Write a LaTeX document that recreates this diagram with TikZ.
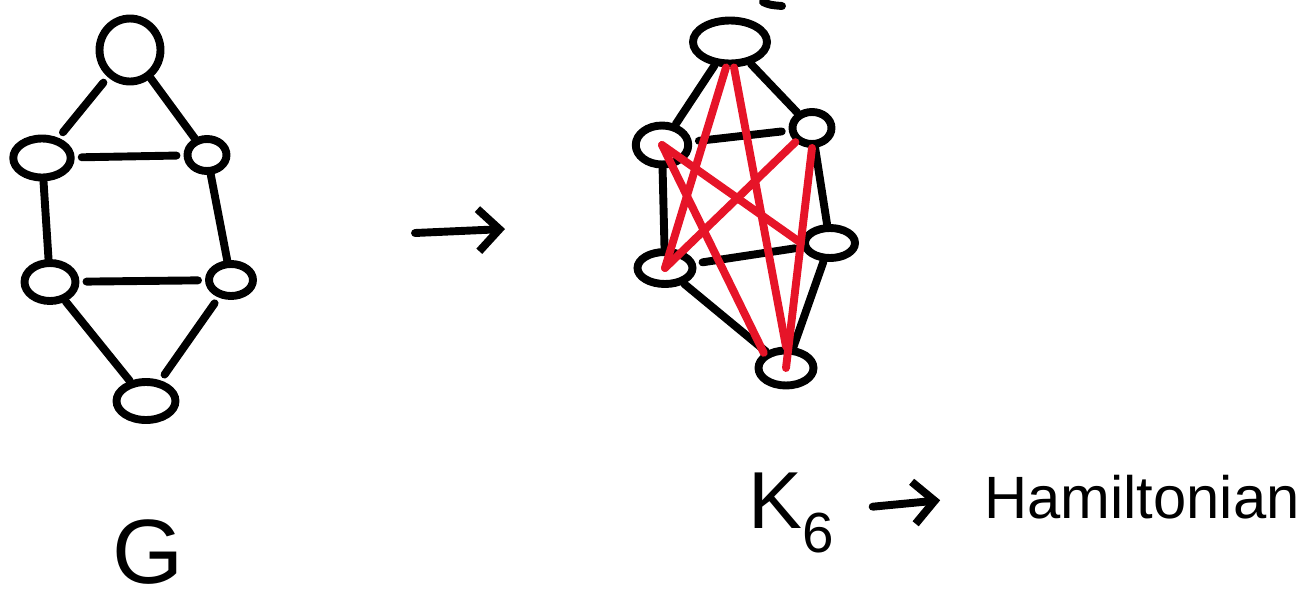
\documentclass[tikz,border=0pt]{standalone}
\usepackage{fontspec}
\setmainfont{Liberation Sans}
\usetikzlibrary{shapes.geometric,arrows.meta}
\tikzset{
  vtx/.style={ellipse, draw, line width=4.5pt, inner sep=0pt},
  edge/.style={line width=4.5pt, line cap=round},
  redge/.style={line width=4.5pt, line cap=round, draw={rgb,255:red,230;green,20;blue,40}},
  gap/.style={shorten <=4pt, shorten >=4pt},
  hand/.style={-{Straight Barb[length=12pt,width=24pt,line width=4.5pt]}, line width=4.5pt, line cap=round}
}
\begin{document}
\begin{tikzpicture}[x=0.02cm,y=-0.02cm]
\useasboundingbox (0,0) rectangle (1306,599);
% graph G
\node[vtx, minimum width=1.22cm, minimum height=1.26cm] (ga) at (130,50) {};
\node[vtx, minimum width=1.15cm, minimum height=0.78cm] (gb) at (42,158) {};
\node[vtx, minimum width=0.78cm, minimum height=0.64cm] (gc) at (207,155) {};
\node[vtx, minimum width=1.02cm, minimum height=0.76cm] (gd) at (50,282) {};
\node[vtx, minimum width=0.88cm, minimum height=0.64cm] (ge) at (231,280) {};
\node[vtx, minimum width=1.18cm, minimum height=0.76cm] (gf) at (146,401) {};
\draw[edge,gap] (ga) -- (gb);
\draw[edge] (ga) -- (gc);
\draw[edge,gap] (gb) -- (gc);
\draw[edge] (gb) -- (gd);
\draw[edge] (gc) -- (ge);
\draw[edge,gap] (gd) -- (ge);
\draw[edge] (gd) -- (gf);
\draw[edge,gap] (ge) -- (gf);
\node[font=\fontsize{52}{56}\selectfont, inner sep=0pt] (glabel) at (148,552) {G};
% arrow
\coordinate (from) at (415,233);
\coordinate (to) at (505,229);
\draw[hand] (from) -- (to);
% completed graph
\node[vtx, minimum width=1.48cm, minimum height=0.86cm] (ka) at (730,42) {};
\node[vtx, minimum width=1.05cm, minimum height=0.78cm] (kb) at (662,145) {};
\node[vtx, minimum width=0.78cm, minimum height=0.64cm] (kc) at (812,128) {};
\node[vtx, minimum width=1.1cm, minimum height=0.64cm] (kd) at (665,268) {};
\node[vtx, minimum width=1.0cm, minimum height=0.6cm] (ke) at (830,243) {};
\node[vtx, minimum width=1.1cm, minimum height=0.7cm] (kf) at (786,368) {};
\draw[edge] (ka) -- (kb);
\draw[edge] (ka) -- (kc);
\draw[edge,gap] (kb) -- (kc);
\draw[edge] (kb) -- (kd);
\draw[edge] (kc) -- (ke);
\draw[edge,gap] (kd) -- (ke);
\draw[edge] (kd) -- (kf);
\draw[edge] (ke) -- (kf);
\draw[redge] (ka.south) ++(-4,0) -- (kd.center);
\draw[redge] (ka.south) ++(4,0) -- (kf.north);
\draw[redge] (kb.center) -- (ke.west);
\draw[redge] (kb.center) -- (kf.north west);
\draw[redge] (kc.south west) -- (kd.center);
\draw[redge] (kc.south) -- (kf.center);
\coordinate (tipa) at (763,2);
\coordinate (tipb) at (782,6);
\draw[edge] (tipa) .. controls (770,5) .. (tipb);
% label
\node[font=\fontsize{46}{50}\selectfont, anchor=base west] (k6) at (742,528) {K\textsubscript{6}};
\node[font=\fontsize{34}{40}\selectfont, anchor=base west] (ham) at (978,518) {Hamiltonian};
\draw[hand, shorten >=0.76cm] (k6.east) ++(32,-6) -- (ham.west);
\end{tikzpicture}
\end{document}
